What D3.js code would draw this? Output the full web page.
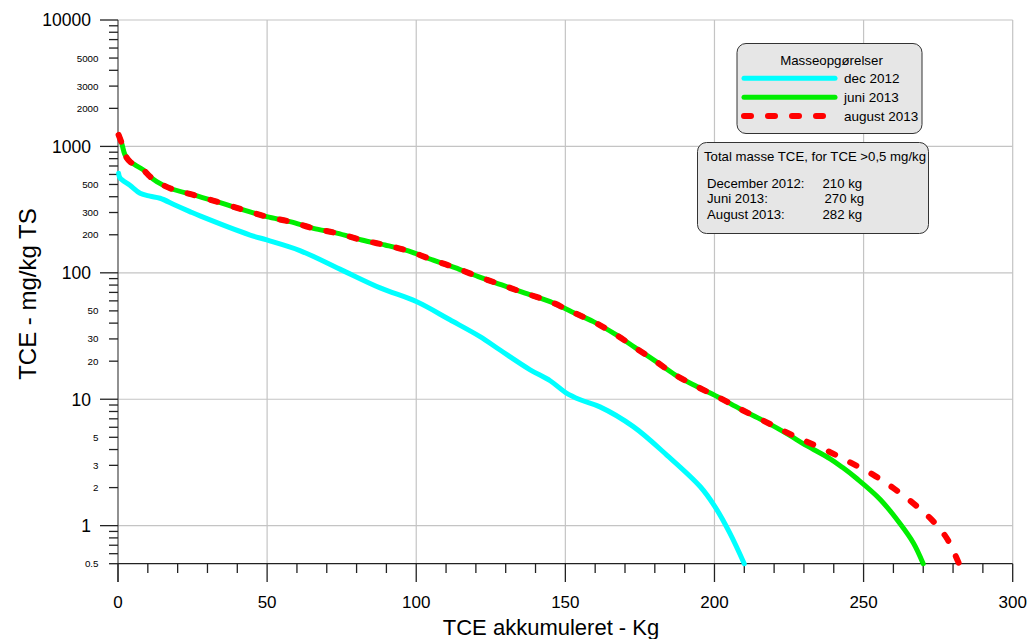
<!DOCTYPE html>
<html><head><meta charset="utf-8">
<script src="https://cdn.jsdelivr.net/npm/d3@7"></script>
<style>body{margin:0;background:#fff;} svg{display:block;font-family:"Liberation Sans",Arial,sans-serif;}</style>
</head><body><svg id="c" width="1031" height="639"></svg>
<script>
// ---- data ----
const decX = [0.2,0.7,4.0,7.4,10.7,14.1,19.1,24.1,27.5,44.3,49.9,61.0,74.4,87.9,100.2,111.3,121.4,128.1,138.2,144.9,150.1,155.0,161.6,172.8,184.0,195.2,200.2,205.2,210];
const decY = [614,562,493,426,404,389,344,305,282,199,182,150,107,76,59,42.5,31.3,24.5,17.1,14.0,11.3,9.9,8.7,6.07,3.62,2.04,1.41,0.87,0.5];
const junX = [0.2,1.24,2.35,4.02,5.7,8.48,10.73,12.98,17.44,25.25,33.1,42.02,49.87,57.68,65.49,73.34,81.72,89.54,97.35,105.7,113.0,120.8,128.7,136.5,144.9,152.1,159.4,166.7,173.4,180.1,186.8,194.1,201.9,208.6,216.4,223.7,230.9,238.8,243.0,247.7,255.5,262.2,266.7,270];
const junY = [1233,1060,857,758,714,652,577,527,467,413,366,315,278,254,225,206,182,166,149,126,110,93.3,80.2,69,59.2,49.3,41.1,32.7,25.6,20.1,15.6,12.6,10.2,8.38,6.77,5.44,4.30,3.38,2.88,2.36,1.62,1.04,0.73,0.5];
const augX = [0.2,1.24,2.35,4.02,5.7,8.48,10.73,12.98,17.44,25.25,33.1,42.02,49.87,57.68,65.49,73.34,81.72,89.54,97.35,105.7,113.0,120.8,128.7,136.5,144.9,152.1,159.4,166.7,173.4,180.1,186.8,194.1,201.9,208.6,216.4,223.7,230.9,238.8,246.0,253.3,260.0,266.7,272.9,277.9,282];
const augY = [1233,1060,857,758,714,652,577,527,467,413,366,315,278,254,225,206,182,166,149,126,110,93.3,80.2,69,59.2,49.3,41.1,32.7,25.6,20.1,15.6,12.6,10.2,8.38,6.77,5.54,4.62,3.81,3.12,2.52,1.98,1.50,1.11,0.795,0.5];
const xTicks = [0,50,100,150,200,250,300];
const xMinor = [10,20,30,40,60,70,80,90,110,120,130,140,160,170,180,190,210,220,230,240,260,270,280,290];
const yMajor = [1,10,100,1000,10000];
const yMinorLabels = [0.5,2,3,5,20,30,50,200,300,500,2000,3000,5000];
const seriesNames = ["dec 2012","juni 2013","august 2013"];
const seriesColors = ["#00ffff","#00ee00","#ff0000"];
const legendTitle = "Masseopgørelser";
const infoTitle = "Total masse TCE, for TCE >0,5 mg/kg";
const infoLabels = ["December 2012:","Juni 2013:","August 2013:"];
const infoValues = ["210 kg","270 kg","282 kg"];
const xTitle = "TCE akkumuleret - Kg";
const yTitle = "TCE - mg/kg TS";

// ---- chart ----
const svg = d3.select("#c");
const x = d3.scaleLinear().domain([0,300]).range([118,1012.7]);
const y = d3.scaleLog().domain([0.5,10000]).range([563.7,20]);

// grid
const grid = svg.append("g").attr("stroke","#c4c4c4").attr("stroke-width",1.2);
xTicks.slice(1).forEach(v=>grid.append("line").attr("x1",x(v)).attr("x2",x(v)).attr("y1",y(10000)).attr("y2",y(0.5)));
yMajor.forEach(v=>grid.append("line").attr("x1",x(0)).attr("x2",x(300)).attr("y1",y(v)).attr("y2",y(v)));

// y minor tick positions
const yMinorAll = [];
[0.1,1,10,100,1000].forEach(d=>{for(let k=2;k<=9;k++){const v=k*d; if(v>=0.5) yMinorAll.push(v);}});

const ax = svg.append("g").attr("stroke","#222").attr("stroke-width",1.3);
ax.append("line").attr("x1",118).attr("x2",118).attr("y1",y(10000)).attr("y2",582).attr("stroke","#555");
yMajor.forEach(v=>ax.append("line").attr("x1",100).attr("x2",118).attr("y1",y(v)).attr("y2",y(v)));
yMinorAll.forEach(v=>ax.append("line").attr("x1",109).attr("x2",118).attr("y1",y(v)).attr("y2",y(v)));
ax.append("line").attr("x1",x(0)).attr("x2",x(300)).attr("y1",y(0.5)).attr("y2",y(0.5));
xTicks.forEach(v=>ax.append("line").attr("x1",x(v)).attr("x2",x(v)).attr("y1",y(0.5)).attr("y2",582));
xMinor.forEach(v=>ax.append("line").attr("x1",x(v)).attr("x2",x(v)).attr("y1",y(0.5)).attr("y2",573));

// tick labels
const fmt = v => String(v);
svg.append("g").selectAll("text").data(yMajor).join("text")
  .attr("x",91).attr("y",v=>y(v)).attr("dy","0.36em").attr("text-anchor","end")
  .attr("font-size",17.5).attr("fill","#000").text(fmt);
svg.append("g").selectAll("text").data(yMinorLabels).join("text")
  .attr("x",98.5).attr("y",v=>y(v)).attr("dy","0.36em").attr("text-anchor","end")
  .attr("font-size",9.8).attr("fill","#000").text(fmt);
svg.append("g").selectAll("text").data(xTicks).join("text")
  .attr("x",v=>x(v)).attr("y",608).attr("text-anchor","middle")
  .attr("font-size",17).attr("fill","#000").text(fmt);

svg.append("text").attr("x",551).attr("y",635).attr("text-anchor","middle").attr("font-size",22).text(xTitle);
svg.append("text").attr("transform","translate(36,294) rotate(-90)").attr("text-anchor","middle").attr("font-size",24).text(yTitle);

// lines
const line = d3.line().x(d=>x(d[0])).y(d=>y(d[1])).curve(d3.curveCatmullRom.alpha(0.5));
const zip = (a,b)=>a.map((v,i)=>[v,b[i]]);
const plot = svg.append("g").attr("fill","none").attr("stroke-linecap","round").attr("stroke-linejoin","round");
plot.append("path").attr("d",line(zip(decX,decY))).attr("stroke",seriesColors[0]).attr("stroke-width",5);
plot.append("path").attr("d",line(zip(junX,junY))).attr("stroke",seriesColors[1]).attr("stroke-width",5);
plot.append("path").attr("d",line(zip(augX,augY))).attr("stroke",seriesColors[2]).attr("stroke-width",6).attr("stroke-dasharray","7,17");

// legend box
const lg = svg.append("g");
lg.append("rect").attr("x",737).attr("y",43.5).attr("width",185).attr("height",90).attr("rx",9)
  .attr("fill","#e6e6e6").attr("stroke","#333").attr("stroke-width",1);
lg.append("text").attr("x",831.5).attr("y",64.5).attr("text-anchor","middle").attr("font-size",13.3).text(legendTitle);
seriesNames.forEach((n,i)=>{
  const yy = 78.3 + i*18.9;
  const l = lg.append("line").attr("x1",744).attr("x2",835).attr("y1",yy).attr("y2",yy)
    .attr("stroke",seriesColors[i]).attr("stroke-width",i==2?6:5).attr("stroke-linecap","round");
  if(i==2) l.attr("stroke-dasharray","7,17");
  lg.append("text").attr("x",844).attr("y",yy+4.6).attr("font-size",13.5).text(n);
});

// info box
const ib = svg.append("g");
ib.append("rect").attr("x",697.5).attr("y",142.5).attr("width",231).attr("height",91).attr("rx",9)
  .attr("fill","#e6e6e6").attr("stroke","#333").attr("stroke-width",1);
ib.append("text").attr("x",704).attr("y",161).attr("font-size",13).attr("textLength",222).attr("lengthAdjust","spacingAndGlyphs").text(infoTitle);
const valX = [822.5,824.5,822.5];
infoLabels.forEach((t,i)=>{
  const yy = 188 + i*15.3;
  ib.append("text").attr("x",707).attr("y",yy).attr("font-size",13.2).text(t);
  ib.append("text").attr("x",valX[i]).attr("y",yy).attr("font-size",13.2).text(infoValues[i]);
});
</script></body></html>
